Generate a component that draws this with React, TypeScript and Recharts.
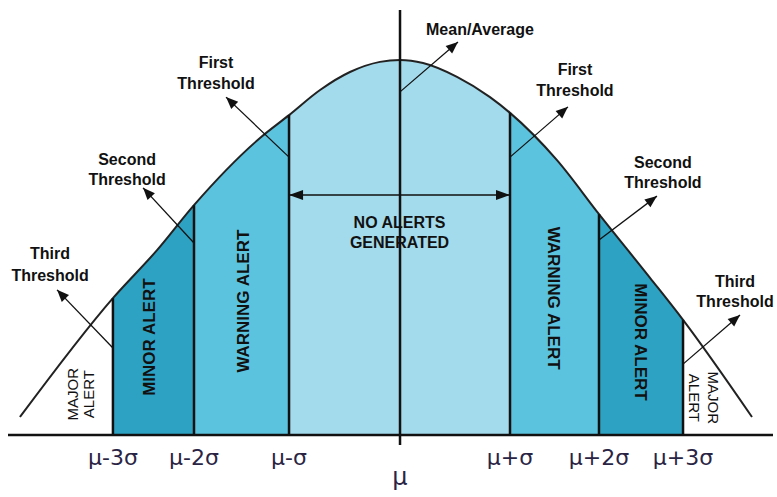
import { ComposedChart, Area, Line, XAxis, YAxis, ReferenceLine, ReferenceDot } from 'recharts';

// curve: x in sigma units (mu = 0), height in % of peak
const positions = [-3.455, -2.61, -2.209, -1.873, -1.273, -1.009, -0.727, -0.455, -0.182, 0, 0.209, 0.518, 0.818, 1.0, 1.427, 1.809, 2.273, 2.573, 3.2];
const heights = [4.8, 36.5, 49.3, 61.3, 79.2, 85.3, 92.0, 96.8, 99.5, 100, 99.2, 95.5, 90.1, 85.9, 73.3, 58.9, 41.9, 30.7, 4.8];

// threshold positions and their tick labels
const thresholds = [-2.61, -1.873, -1.009, 1.0, 1.809, 2.573];
const thresholdHeights = [36.5, 61.3, 85.3, 85.9, 58.9, 30.7];
const tickLabels = ['μ-3σ', 'μ-2σ', 'μ-σ', 'μ+σ', 'μ+2σ', 'μ+3σ'];
const meanLabel = 'μ';

// callouts: arrow start (on a line) -> arrow tip, then the text
const calloutText = [
  ['First', 'Threshold'],
  ['Second', 'Threshold'],
  ['Third', 'Threshold'],
  ['Mean/Average'],
  ['First', 'Threshold'],
  ['Second', 'Threshold'],
  ['Third', 'Threshold'],
];
const calloutStart = [[-1.009, 74.1], [-1.873, 51.2], [-2.61, 23.2], [0, 91.5], [1.0, 74.1], [1.809, 52], [2.573, 18.9]];
const calloutTip = [[-1.582, 90.1], [-2.336, 65.9], [-3.118, 38.7], [0.527, 104.8], [1.527, 87.5], [2.336, 63.7], [3.091, 32]];
const calloutDx = [-10, -16, -7, 22, 7, 6, -5];
const calloutDy = [[-29, -8], [-23, -3], [-31, -9], [-7], [-32, -11], [-28, -8], [-28, -8]];

// zone labels written inside the bands
const zoneText = [
  ['MAJOR', 'ALERT'],
  ['MINOR ALERT'],
  ['WARNING ALERT'],
  ['WARNING ALERT'],
  ['MINOR ALERT'],
  ['MAJOR', 'ALERT'],
];
const zoneX = [-2.909, -2.273, -1.427, 1.391, 2.182, 2.76];
const zoneY = [10.9, 26.1, 35.7, 36.5, 24.8, 9.9];
const zoneRotate = [-90, -90, -90, 90, 90, 90];
const noAlertText = ['NO ALERTS', 'GENERATED'];
const arrowLevel = 64;

const X_DOMAIN = [-3.564, 3.391];
const Y_DOMAIN = [-2.667, 113.333];
const INK = '#111';
const FONT = '"Liberation Sans", Arial, sans-serif';

const inBand = (x: number, a: number, b: number) => x >= a - 1e-9 && x <= b + 1e-9;

const rows = positions.map((x, i) => {
  const h = heights[i];
  const t = thresholds;
  return {
    x,
    curve: h,
    light: inBand(x, t[2], t[3]) ? h : null,
    warn: inBand(x, t[1], t[2]) || inBand(x, t[3], t[4]) ? h : null,
    minor: inBand(x, t[0], t[1]) || inBand(x, t[4], t[5]) ? h : null,
  };
});

function head(x1: number, y1: number, x2: number, y2: number, len = 12, w = 5) {
  const a = Math.atan2(y2 - y1, x2 - x1);
  const c = Math.cos(a), s = Math.sin(a);
  const bx = x2 - len * c, by = y2 - len * s;
  return `${x2},${y2} ${bx - w * s},${by + w * c} ${bx + w * s},${by - w * c}`;
}

function calloutShape(lines: string[], dx: number, dys: number[]) {
  return (p: any) => {
    const { x1, y1, x2, y2 } = p;
    return (
      <g>
        <line x1={x1} y1={y1} x2={x2} y2={y2} stroke={INK} strokeWidth={1.3} />
        <polygon points={head(x1, y1, x2, y2)} fill={INK} />
        {lines.map((l, i) => (
          <text key={i} x={x2 + dx} y={y2 + dys[i]} textAnchor="middle" fontFamily={FONT} fontWeight="bold" fontSize={16} fill={INK}>
            {l}
          </text>
        ))}
      </g>
    );
  };
}

const doubleArrow = (p: any) => {
  const { x1, y1, x2, y2 } = p;
  return (
    <g>
      <line x1={x1} y1={y1} x2={x2} y2={y2} stroke={INK} strokeWidth={1.5} />
      <polygon points={head(x2, y2, x1, y1, 14, 5)} fill={INK} />
      <polygon points={head(x1, y1, x2, y2, 14, 5)} fill={INK} />
      {noAlertText.map((l, i) => (
        <text key={i} x={(x1 + x2) / 2} y={y1 + 33 + i * 20} textAnchor="middle" fontFamily={FONT} fontWeight="bold" fontSize={16} fill={INK}>
          {l}
        </text>
      ))}
    </g>
  );
};

function zoneShape(lines: string[], rot: number) {
  const small = lines.length > 1;
  const gap = rot < 0 ? 16 : 19;
  return (p: any) => {
    const { cx, cy } = p;
    return (
      <g transform={`rotate(${rot} ${cx} ${cy})`}>
        {lines.map((l, i) => (
          <text
            key={i}
            x={cx}
            y={cy + (i - (lines.length - 1) / 2) * gap}
            textAnchor="middle"
            dominantBaseline="central"
            fontFamily={FONT}
            fontWeight={small ? 'normal' : 'bold'}
            fontSize={small ? 15 : 17}
            fill={INK}
          >
            {l}
          </text>
        ))}
      </g>
    );
  };
}

const SigmaTick = (p: any) => {
  const v = p.payload.value;
  const idx = thresholds.indexOf(v);
  const isMean = idx < 0;
  return (
    <text
      x={p.x}
      y={p.y + (isMean ? 40 : 20)}
      textAnchor="middle"
      fontFamily='"DejaVu Sans", sans-serif'
      fontSize={isMean ? 24 : 22}
      fill="#2a2444"
    >
      {isMean ? meanLabel : tickLabels[idx]}
    </text>
  );
};

export default function App() {
  return (
    <div style={{ position: 'absolute', left: 0, top: 0, width: 777, height: 497, background: '#fff' }}>
      <ComposedChart width={777} height={497} data={rows} margin={{ top: 10, right: 4, bottom: 0, left: 8 }}>
        <XAxis
          dataKey="x"
          type="number"
          domain={X_DOMAIN}
          allowDataOverflow
          ticks={[...thresholds, 0]}
          tick={<SigmaTick />}
          axisLine={false}
          tickLine={false}
          tickSize={0}
          tickMargin={0}
          height={52}
          interval={0}
        />
        <YAxis type="number" domain={Y_DOMAIN} allowDataOverflow hide />
        <Area dataKey="light" type="monotone" baseValue={0} fill="#a3dbec" fillOpacity={1} stroke="none" isAnimationActive={false} />
        <Area dataKey="warn" type="monotone" baseValue={0} fill="#5cc3df" fillOpacity={1} stroke="none" isAnimationActive={false} />
        <Area dataKey="minor" type="monotone" baseValue={0} fill="#2ea2c3" fillOpacity={1} stroke="none" isAnimationActive={false} />
        <Line dataKey="curve" type="monotone" stroke="#222" strokeWidth={2} dot={false} isAnimationActive={false} />
        {thresholds.map((t, i) => (
          <ReferenceLine key={`t${i}`} segment={[{ x: t, y: 0 }, { x: t, y: thresholdHeights[i] }]} stroke={INK} strokeWidth={2.5} />
        ))}
        <ReferenceLine x={0} stroke={INK} strokeWidth={2.5} />
        <ReferenceLine y={0} stroke={INK} strokeWidth={2.5} />
        <ReferenceLine
          segment={[{ x: thresholds[2], y: arrowLevel }, { x: thresholds[3], y: arrowLevel }]}
          shape={doubleArrow}
        />
        {calloutText.map((lines, i) => (
          <ReferenceLine
            key={`c${i}`}
            segment={[{ x: calloutStart[i][0], y: calloutStart[i][1] }, { x: calloutTip[i][0], y: calloutTip[i][1] }]}
            shape={calloutShape(lines, calloutDx[i], calloutDy[i])}
          />
        ))}
        {zoneText.map((lines, i) => (
          <ReferenceDot key={`z${i}`} x={zoneX[i]} y={zoneY[i]} r={1} shape={zoneShape(lines, zoneRotate[i])} />
        ))}
      </ComposedChart>
    </div>
  );
}
